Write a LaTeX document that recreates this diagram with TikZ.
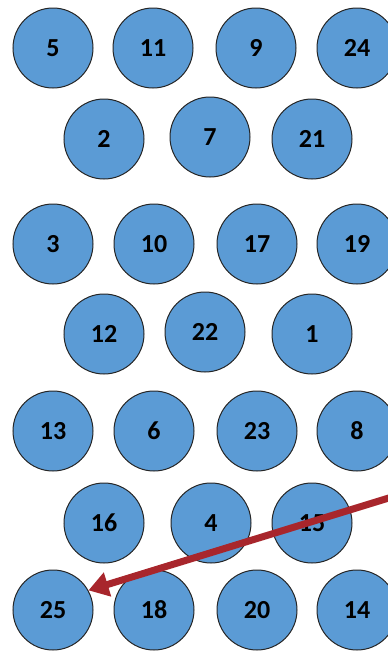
\documentclass[tikz,border=0pt]{standalone}
\usepackage{fontspec}
\setmainfont{Carlito}
\usepackage{xcolor}
\usetikzlibrary{arrows.meta}
\definecolor{ballblue}{RGB}{91,155,213}
\definecolor{arrowred}{RGB}{168,38,44}
\tikzset{
  ball/.style={circle,fill=ballblue,draw=black!85,line width=1pt,minimum size=80pt,inner sep=0pt,
    font=\fontsize{26}{30}\selectfont\bfseries},
  pointer/.style={arrowred,line width=7pt,-{Triangle[length=20pt,width=24pt]}}
}
\begin{document}
\begin{tikzpicture}[x=1pt,y=-1pt]
\useasboundingbox (0,0) rectangle (388,651);
\clip (0,0) rectangle (388,651);
\fill[white] (0,0) rectangle (388,651);
\node[ball] (n5) at (53,48) {5};
\node[ball] (n11) at (153,48) {11};
\node[ball] (n9) at (256,48) {9};
\node[ball] (n24) at (357,48) {24};
\node[ball] (n2) at (104,139) {2};
\node[ball] (n7) at (210,137) {7};
\node[ball] (n21) at (312,139) {21};
\node[ball] (n3) at (53,244) {3};
\node[ball] (n10) at (154,244) {10};
\node[ball] (n17) at (257,244) {17};
\node[ball] (n19) at (357,244) {19};
\node[ball] (n12) at (104,334) {12};
\node[ball] (n22) at (205,332) {22};
\node[ball] (n1) at (312,334) {1};
\node[ball] (n13) at (53,431) {13};
\node[ball] (n6) at (154,431) {6};
\node[ball] (n23) at (257,431) {23};
\node[ball] (n8) at (357,431) {8};
\node[ball] (n16) at (104,523) {16};
\node[ball] (n4) at (211,523) {4};
\node[ball] (n15) at (312,523) {15};
\node[ball] (n25) at (53,610) {25};
\node[ball] (n18) at (154,610) {18};
\node[ball] (n20) at (257,610) {20};
\node[ball] (n14) at (357,610) {14};
\coordinate (edge) at (392,497);
\draw[pointer] (edge) -- (n25.29);
\end{tikzpicture}
\end{document}
